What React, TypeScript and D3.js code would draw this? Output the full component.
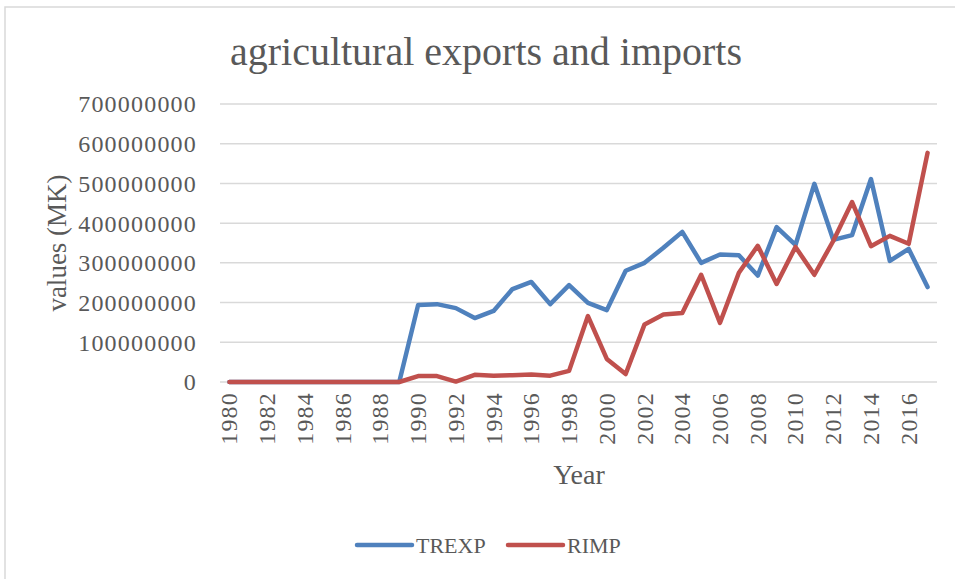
import React from "react";
import * as d3 from "d3";

const years: number[] = d3.range(1980, 2018);
const trexp: number[] = [
  0, 0, 0, 0, 0, 0, 0, 0, 0, 0,
  194e6, 196e6, 186e6, 161e6, 179e6, 234e6, 252e6, 196e6, 244e6, 199e6,
  181e6, 280e6, 300e6, 338e6, 378e6, 300e6, 321e6, 319e6, 268e6, 390e6,
  345e6, 499e6, 358e6, 370e6, 511e6, 305e6, 335e6, 239e6,
];
const rimp: number[] = [
  0, 0, 0, 0, 0, 0, 0, 0, 0, 0,
  15e6, 15e6, 1e6, 18e6, 16e6, 17e6, 19e6, 16e6, 28e6, 166e6,
  58e6, 20e6, 145e6, 170e6, 174e6, 270e6, 149e6, 275e6, 343e6, 247e6,
  340e6, 270e6, 355e6, 453e6, 342e6, 368e6, 348e6, 577e6,
];
const yTicks: number[] = [0, 1e8, 2e8, 3e8, 4e8, 5e8, 6e8, 7e8];
const seriesNames: string[] = ["TREXP", "RIMP"];
const colors: string[] = ["#4F81BD", "#C0504D"];

const W = 955, H = 579;
const L = 220, R = 937, T = 104, B = 382;
const FONT = "'Liberation Serif', serif";
const TXT = "#595959";

export default function App() {
  const x = d3.scaleBand<number>().domain(years).range([L, R]);
  const cx = (yr: number) => (x(yr) as number) + x.bandwidth() / 2;
  const y = d3.scaleLinear().domain([0, 7e8]).range([B, T]);
  const line = d3.line<number>().x((_, i) => cx(years[i])).y((v) => y(v));
  const series = [trexp, rimp];
  const legendX = [357, 508];
  return (
    <svg width={W} height={H} style={{ position: "absolute", left: 0, top: 0, background: "#fff" }}>
      <rect x={5} y={7} width={W} height={H} fill="#fff" stroke="#D9D9D9" strokeWidth={1.5} />
      <text x={486} y={65} textAnchor="middle" fontFamily={FONT} fontSize={40} fill={TXT}>
        agricultural exports and imports
      </text>
      {yTicks.map((t) => (
        <g key={t}>
          <line x1={L} x2={R} y1={y(t)} y2={y(t)} stroke="#D9D9D9" strokeWidth={1.5} />
          <text x={197} y={y(t)} dy="0.35em" textAnchor="end" fontFamily={FONT} fontSize={24} letterSpacing={1.2} fill={TXT}>
            {t}
          </text>
        </g>
      ))}
      <text transform={`translate(66,243) rotate(-90)`} textAnchor="middle" fontFamily={FONT} fontSize={27} fill={TXT}>
        values (MK)
      </text>
      {years.filter((yr) => yr % 2 === 0).map((yr) => (
        <text key={yr} transform={`translate(${cx(yr) + 8},392) rotate(-90)`} textAnchor="end" fontFamily={FONT} fontSize={24} letterSpacing={1.2} fill={TXT}>
          {yr}
        </text>
      ))}
      <text x={579} y={484} textAnchor="middle" fontFamily={FONT} fontSize={28} fill={TXT}>
        Year
      </text>
      {series.map((s, i) => (
        <path key={i} d={line(s) || ""} fill="none" stroke={colors[i]} strokeWidth={4.5} strokeLinejoin="round" strokeLinecap="round" />
      ))}
      {seriesNames.map((n, i) => (
        <g key={n}>
          <line x1={legendX[i]} x2={legendX[i] + 55} y1={545} y2={545} stroke={colors[i]} strokeWidth={4.5} strokeLinecap="round" />
          <text x={legendX[i] + 59} y={545} dy="0.35em" fontFamily={FONT} fontSize={22} fill={TXT}>
            {n}
          </text>
        </g>
      ))}
    </svg>
  );
}
